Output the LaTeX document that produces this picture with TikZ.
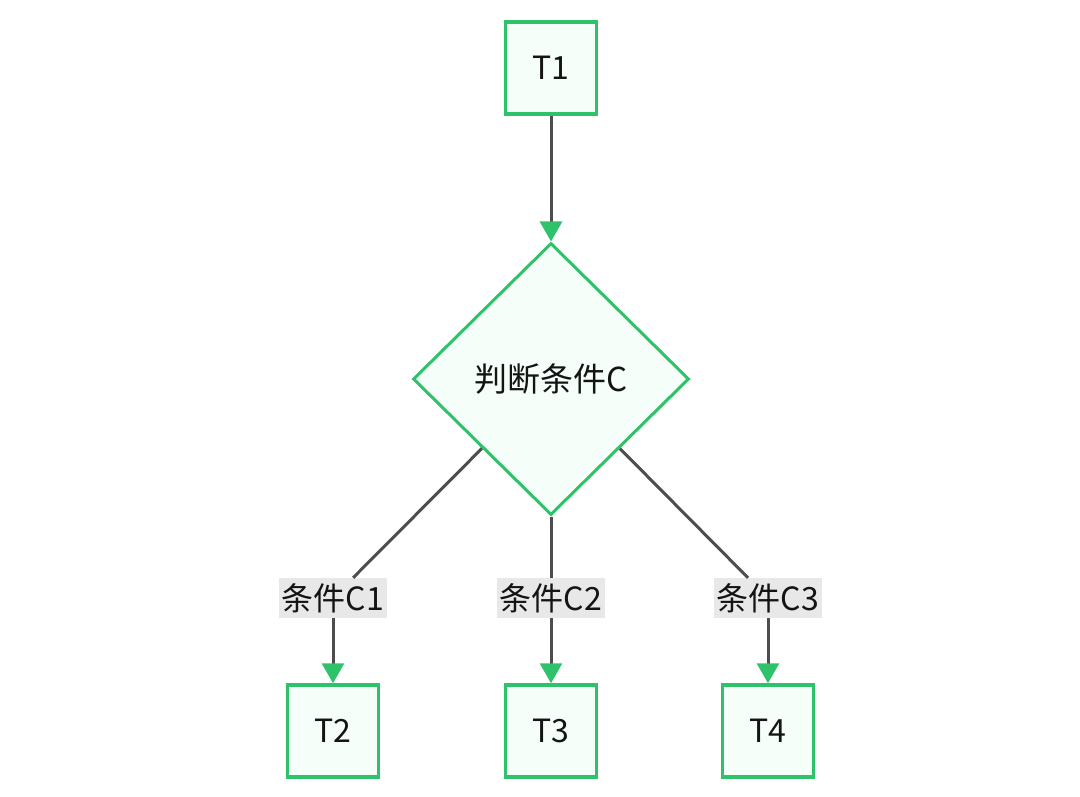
\documentclass[tikz,border=0pt]{standalone}
\usepackage{fontspec}
\setmainfont{Noto Sans CJK SC}
\usetikzlibrary{shapes.geometric,arrows.meta}
\definecolor{mgreen}{HTML}{2EC26A}
\definecolor{mfill}{HTML}{F6FEF9}
\definecolor{mline}{HTML}{4D4D4D}
\definecolor{mlab}{HTML}{E8E8E8}
\definecolor{mtext}{HTML}{141414}
\tikzset{
  taskbox/.style={draw=mgreen, fill=mfill, line width=3.5pt, minimum width=91pt, minimum height=92pt, inner sep=0pt, text=mtext, font=\fontsize{32}{38}\selectfont},
  decide/.style={diamond, draw=mgreen, fill=mfill, line width=3pt, minimum width=276pt, minimum height=272pt, inner sep=0pt, text=mtext, font=\fontsize{33}{40}\selectfont},
  condlab/.style={fill=mlab, minimum width=108pt, minimum height=40pt, inner sep=0pt, text=mtext, font=\fontsize{32}{38}\selectfont},
  conn/.style={draw=mline, line width=3pt},
  arr/.style={conn, -{Triangle[length=20pt,width=22pt,color=mgreen]}}
}
\begin{document}
\begin{tikzpicture}[x=1pt,y=-1pt]
\useasboundingbox (0,0) rectangle (1080,796);
\node[taskbox] (t1) at (551,68) {T1};
\node[decide] (d) at (551,379) {判断条件C};
\node[condlab] (l1) at (333,598) {条件C1};
\node[condlab] (l2) at (551,598) {条件C2};
\node[condlab] (l3) at (768,598) {条件C3};
\node[taskbox] (t2) at (333,731) {T2};
\node[taskbox] (t3) at (551,731) {T3};
\node[taskbox] (t4) at (768,731) {T4};
\draw[arr] (t1) -- (d);
\draw[conn] (d) -- (l1);
\draw[conn] (d) -- (l2);
\draw[conn] (d) -- (l3);
\draw[arr] (l1) -- (t2);
\draw[arr] (l2) -- (t3);
\draw[arr] (l3) -- (t4);
\end{tikzpicture}
\end{document}
